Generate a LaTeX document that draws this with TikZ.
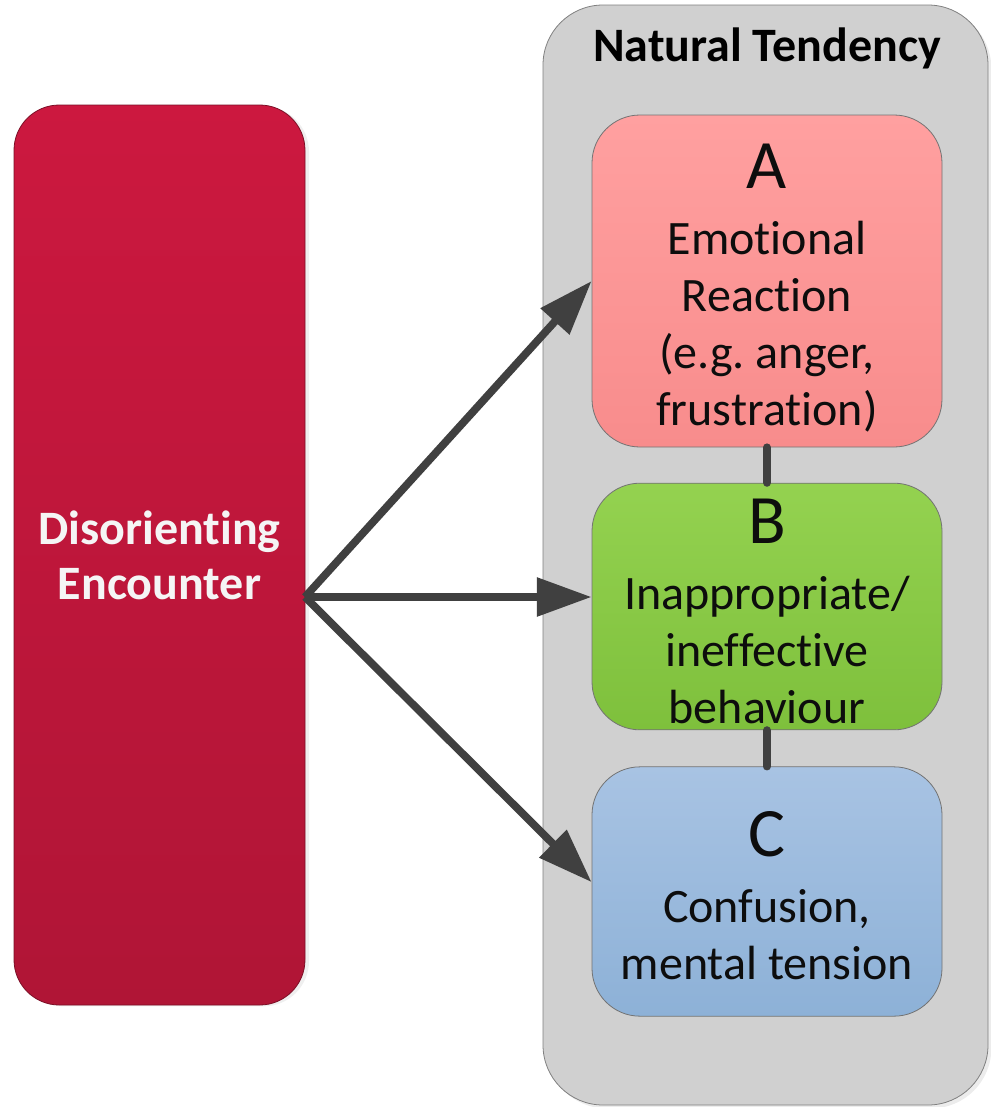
\documentclass[tikz,border=0pt]{standalone}
\usepackage{fontspec}
\setmainfont{Carlito}[Ligatures=NoCommon]
\usepackage{tikz}
\usetikzlibrary{arrows.meta, shadows}

\definecolor{encred}{RGB}{204,24,63}
\definecolor{encreddark}{RGB}{176,21,54}
\definecolor{panelgray}{RGB}{208,208,208}
\definecolor{pinktop}{RGB}{255,160,160}
\definecolor{pinkbot}{RGB}{248,140,140}
\definecolor{greentop}{RGB}{148,210,80}
\definecolor{greenbot}{RGB}{126,192,60}
\definecolor{bluetop}{RGB}{168,195,227}
\definecolor{bluebot}{RGB}{141,177,215}
\definecolor{linkgray}{RGB}{64,64,64}

\newcommand{\bigletter}[2]{{\fontsize{52}{52}\selectfont\rule{0pt}{#1}#2}}

\begin{document}
\begin{tikzpicture}[x=0.75pt, y=-0.75pt,
		box/.style={draw=black!55, line width=0.6pt, rounded corners=36pt, minimum width=262.5pt, align=center, font=\fontsize{36}{42.75}\selectfont, text=black!95},
		arrowline/.style={draw=linkgray, line width=5.8pt, -{Triangle[length=41pt, width=28pt]}},
		link/.style={draw=linkgray, line width=6pt, line cap=round}]
		\useasboundingbox (0,0) rectangle (990,1107);
		
		\node[draw=black!50, line width=0.6pt, fill=panelgray, rounded corners=45pt, minimum width=333.75pt, minimum height=825pt, drop shadow={shadow xshift=2.5pt, shadow yshift=-2.5pt, fill=black!15}] (panel) at (765.5,555){};
		\node[font=\fontsize{36}{42}\selectfont\bfseries] (title) at (767,48){Natural Tendency};
		
		\node[draw=encreddark!70!black, line width=0.6pt, top color=encred, bottom color=encreddark, rounded corners=34pt, minimum width=218.25pt, minimum height=675pt, align=center, text=white!96!black, font=\fontsize{36}{41.25}\selectfont\bfseries, drop shadow={shadow xshift=3pt, shadow yshift=-1pt, fill=black!12}] (enc) at (159.5,555){Disorienting\\Encounter};
		
		\node[box, top color=pinktop, bottom color=pinkbot, minimum height=249pt] (A) at (767,281){\bigletter{44pt}{A}\\[6.75pt]Emotional\\Reaction\\(e.g.\ anger,\\frustration)};
		\node[box, top color=greentop, bottom color=greenbot, minimum height=185pt] (B) at (767,606.5){\bigletter{40pt}{B}\\[6.75pt]Inappropriate/\\ineffective\\behaviour};
		\node[box, top color=bluetop, bottom color=bluebot, minimum height=187pt] (C) at (767,891.5){\bigletter{40pt}{C}\\[6.75pt]Confusion,\\mental tension};
		
		\draw[link] (A.south) -- (B.north);
		\draw[link] (B.south) -- (C.north);
		
		\coordinate (hub) at (305,597);
		\draw[arrowline] (hub) -- (A.west);
		\draw[arrowline] (hub) -- (hub -| B.west);
		\draw[arrowline] (hub) -- ([yshift=7pt]C.west);
	\end{tikzpicture}
\end{document}
